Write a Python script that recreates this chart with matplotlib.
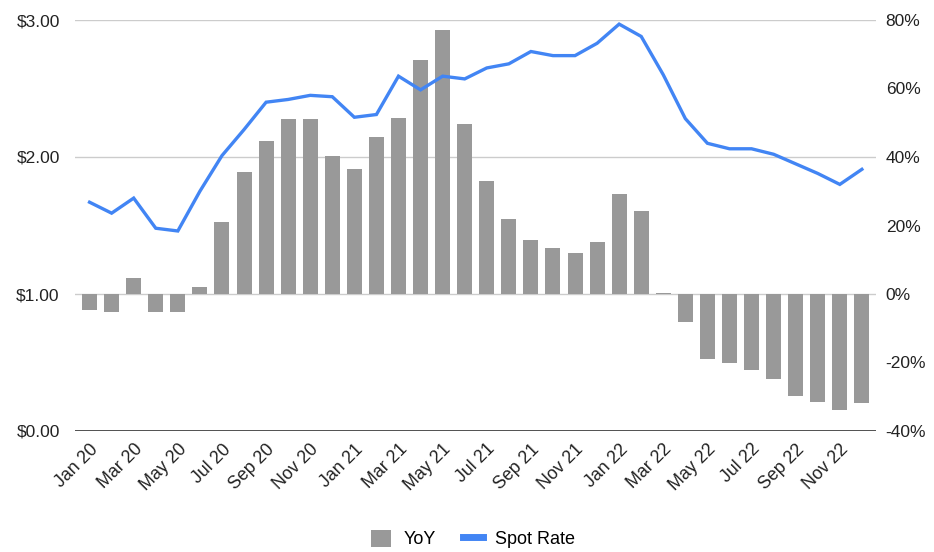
import numpy as np
import matplotlib
matplotlib.use('Agg')
import matplotlib.pyplot as plt
from matplotlib.patches import Patch
from matplotlib.lines import Line2D

plt.rcParams['font.family'] = ['Liberation Sans', 'DejaVu Sans']

# months Jan 20 .. Dec 22
months = ['Jan 20', 'Feb 20', 'Mar 20', 'Apr 20', 'May 20', 'Jun 20',
          'Jul 20', 'Aug 20', 'Sep 20', 'Oct 20', 'Nov 20', 'Dec 20',
          'Jan 21', 'Feb 21', 'Mar 21', 'Apr 21', 'May 21', 'Jun 21',
          'Jul 21', 'Aug 21', 'Sep 21', 'Oct 21', 'Nov 21', 'Dec 21',
          'Jan 22', 'Feb 22', 'Mar 22', 'Apr 22', 'May 22', 'Jun 22',
          'Jul 22', 'Aug 22', 'Sep 22', 'Oct 22', 'Nov 22', 'Dec 22']

# YoY change (%), right axis
yoy = [-4.7, -5.4, 4.6, -5.4, -5.4, 2.1,
       21.1, 35.5, 44.7, 51.0, 51.0, 40.4,
       36.4, 45.7, 51.5, 68.3, 77.1, 49.5,
       33.1, 21.9, 15.8, 13.3, 11.9, 15.2,
       29.2, 24.3, 0.3, -8.3, -19.0, -20.0,
       -22.2, -24.7, -29.7, -31.4, -33.9, -31.9]

# spot rate ($), left axis
spot = [1.67, 1.59, 1.70, 1.48, 1.46, 1.75,
        2.01, 2.20, 2.40, 2.42, 2.45, 2.44,
        2.29, 2.31, 2.59, 2.49, 2.59, 2.57,
        2.65, 2.68, 2.77, 2.74, 2.74, 2.83,
        2.97, 2.88, 2.60, 2.28, 2.10, 2.06,
        2.06, 2.02, 1.95, 1.88, 1.80, 1.91]

x = np.arange(len(months))

fig = plt.figure(figsize=(9.34, 5.52), dpi=100)
ax2 = fig.add_axes([75 / 934, 1 - 431 / 552, 801 / 934, 411 / 552])
ax = ax2.twinx()
ax.set_zorder(ax2.get_zorder() + 1)
ax.patch.set_visible(False)

# gridlines on the bottom axes so bars sit over them
for g in [0, 40, 80]:
    ax2.axhline(g, color='#cccccc', lw=1, zorder=0)
ax2.axhline(-40, color='#333333', lw=1.2, zorder=0)

ax2.bar(x, yoy, width=0.68, color='#999999', zorder=2)
ax.plot(x, spot, color='#4285f4', lw=2.4, solid_joinstyle='miter')

ax2.set_xlim(-0.66, 35.64)
ax2.set_ylim(-40, 80)
ax.set_ylim(0, 3)

# left axis is the $ axis, right axis the % axis
ax2.yaxis.tick_right()
ax.yaxis.tick_left()
ax2.set_yticks([-40, -20, 0, 20, 40, 60, 80])
ax2.set_yticklabels(['-40%', '-20%', '0%', '20%', '40%', '60%', '80%'])
ax.set_yticks([0, 1, 2, 3])
ax.set_yticklabels(['$0.00', '$1.00', '$2.00', '$3.00'])
ax.tick_params(axis='y', length=0, pad=11, labelsize=12.5, labelcolor='#222222')
ax2.tick_params(axis='y', length=0, pad=7, labelsize=12.5, labelcolor='#222222')

ax2.set_xticks(x[::2])
ax2.set_xticklabels(months[::2], rotation=45, ha='right', rotation_mode='anchor')
ax2.tick_params(axis='x', length=0, pad=7, labelsize=12.8, labelcolor='#222222')

for a in (ax, ax2):
    for s in a.spines.values():
        s.set_visible(False)

handles = [Patch(facecolor='#999999', edgecolor='none', label='YoY'),
           Line2D([0], [0], color='#4285f4', lw=5, label='Spot Rate')]
fig.legend(handles=handles, loc='center', bbox_to_anchor=(473 / 934, 1 - 539 / 552),
           ncol=2, frameon=False, fontsize=13, handlelength=1.1, handleheight=1.1,
           handletextpad=0.7, columnspacing=1.5)

fig.savefig('out.png', dpi=100)
